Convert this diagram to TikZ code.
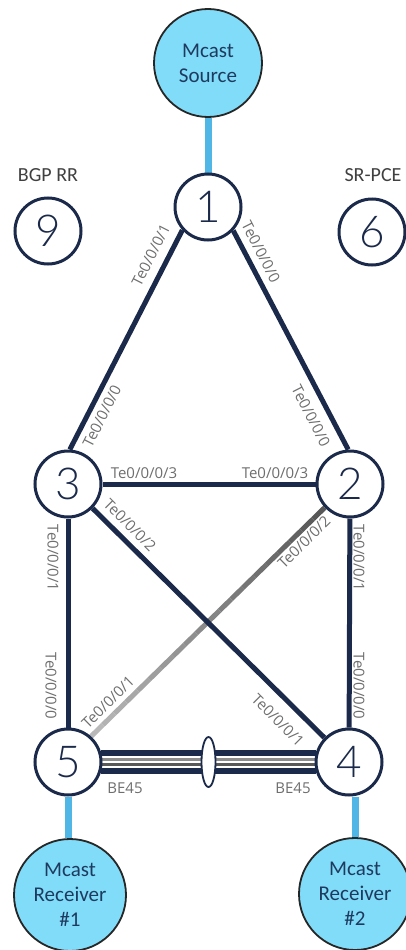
\documentclass[tikz,border=0pt]{standalone}
\usepackage{fontspec}
\setmainfont{Open Sans}
\newfontfamily\capfont{Carlito}
\newfontfamily\numfont{Lato Light}
\usetikzlibrary{shapes.geometric, positioning, calc}
\pgfdeclarelayer{background}
\pgfsetlayers{background,main}
\definecolor{navy}{HTML}{1B2A4A}
\definecolor{hostblue}{HTML}{80DCF8}
\definecolor{hostline}{HTML}{262626}
\definecolor{hosttext}{HTML}{1F3A5F}
\definecolor{linkblue}{HTML}{4FB6E6}
\definecolor{portgray}{HTML}{6E6E6E}
\definecolor{rolegray}{HTML}{404040}

\begin{document}
\begin{tikzpicture}[
        x=1pt, y=-1pt,
        router/.style={circle, draw=navy, line width=3pt, fill=white, minimum size=66pt, inner sep=0pt,
            font=\numfont\fontsize{44}{44}\selectfont, text=navy},
        host/.style={circle, draw=hostline, line width=1.8pt, fill=hostblue, minimum size=108pt, inner sep=0pt,
            align=center, font=\capfont\fontsize{21}{25}\selectfont, text=hosttext},
        role/.style={font=\capfont\fontsize{20}{22}\selectfont, text=rolegray},
        port/.style={font=\fontsize{15}{17}\selectfont, text=portgray, inner sep=0pt},
        access/.style={linkblue, line width=7pt},
        core/.style={navy, line width=5pt},
        bundle/.style={ellipse, draw=navy, line width=1.8pt, fill=white, minimum width=14pt, minimum height=50pt, inner sep=0pt},
    ]
        \useasboundingbox (0,0) rectangle (406,950);

        % hosts
        \node[host] (src) at (208,63) {Mcast\\Source};
        \node[host, minimum size=112pt] (rx1) at (70,895) {Mcast\\Receiver\\\#1};
        \node[host, minimum size=112pt] (rx2) at (355,894) {Mcast\\Receiver\\\#2};

        % routers
        \node[router] (n1) at (208,207) {1};
        \node[router] (n2) at (350,484) {2};
        \node[router] (n3) at (68,484) {3};
        \node[router] (n4) at (349,762) {4};
        \node[router] (n5) at (68,762) {5};
        \node[router] (n6) at (372,232) {6};
        \node[router] (n9) at (48,231) {9};

        \node[role] (rr) at (48,175) {BGP RR};
        \node[role] (pce) at (373,175) {SR-PCE};

        \begin{pgfonlayer}{background}
            \draw[access] (src) -- (n1);
            \draw[access] (n5) -- (n5 |- rx1.north);
            \draw[access] (n4.south -| rx2) -- (rx2);

            % shaded link 2-5
            \foreach \i [evaluate=\i as \a using \i/20,
                         evaluate=\i as \b using (\i+1)/20,
                         evaluate=\i as \c using 66-38*\i/19] in {0,...,19}
                \draw[line width=5pt, black!\c] ($(n2.223)!\a!(n5.48)$) -- ($(n2.223)!\b!(n5.48)$);

            \draw[core] (n1.222) -- (n3.87);
            \draw[core] (n1.317) -- (n2.93);
            \draw[core] (n3) -- (n2);
            \draw[core] (n3) -- (n5);
            \draw[core] (n2) -- (n4);
            \draw[core] (n3) -- (n4);

            % bundle BE45
            \draw[navy, line width=6pt] (n5.15) -- (n4.165);
            \draw[navy, line width=6pt] (n5.-15) -- (n4.195);
            \draw[black!45, line width=2.6pt] (n5.4) -- (n4.176);
            \draw[black!65, line width=2.6pt] (n5.-4) -- (n4.184);
        \end{pgfonlayer}
        \node[bundle] (be) at ($(n5)!0.5!(n4)$) {};

        % port labels
        \node[port, rotate=63] (p13a) at (151,255) {Te0/0/0/1};
        \node[port, rotate=63] (p13b) at (102,416) {Te0/0/0/0};
        \node[port, rotate=-63] (p12a) at (261,252) {Te0/0/0/0};
        \node[port, rotate=-63] (p12b) at (311,416) {Te0/0/0/0};
        \node[port] (p32a) at (144,473) {Te0/0/0/3};
        \node[port] (p32b) at (275,473) {Te0/0/0/3};
        \node[port, rotate=-45] (p34a) at (130,525) {Te0/0/0/2};
        \node[port, rotate=-45] (p34b) at (278,720) {Te0/0/0/1};
        \node[port, rotate=44.5] (p25a) at (304,542) {Te0/0/0/2};
        \node[port, rotate=44.5] (p25b) at (108,702) {Te0/0/0/1};
        \node[port, rotate=-90] (p35a) at (53,558) {Te0/0/0/1};
        \node[port, rotate=-90] (p35b) at (51,686) {Te0/0/0/0};
        \node[port, rotate=-90] (p24a) at (359,558) {Te0/0/0/1};
        \node[port, rotate=-90] (p24b) at (359,686) {Te0/0/0/0};
        \node[port] (be5) at (125,788) {BE45};
        \node[port] (be4) at (293,788) {BE45};
\end{tikzpicture}
\end{document}
